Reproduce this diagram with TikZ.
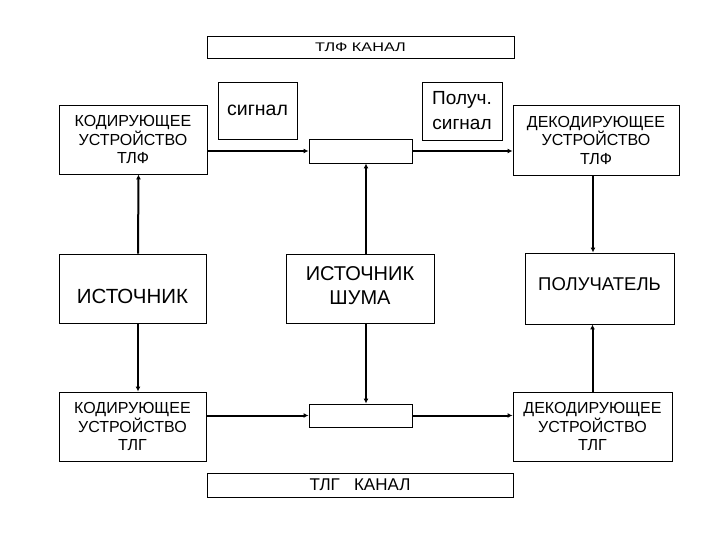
\documentclass[tikz,border=0pt]{standalone}
\usepackage{fontspec}
\setmainfont{Liberation Sans}
\usepackage{tikz}
\usetikzlibrary{arrows.meta, positioning}

\begin{document}
\begin{tikzpicture}[
        x=1pt, y=-1pt,
        box/.style={rectangle, draw, line width=0.9pt, inner sep=0pt, align=center},
        txt/.style 2 args={font=\fontsize{#1}{#2}\selectfont},
        every edge/.style={draw, line width=2pt, -{Latex[length=5pt,width=5pt]}}  % thick signal lines
    ]
    \useasboundingbox (0,0) rectangle (720,540);

    % channels
    \node[box, txt={12.5}{14}, minimum width=307pt, minimum height=22pt] (tlfchan) at (360.5,47) {\scalebox{1.3}[1]{ТЛФ КАНАЛ}};
    \node[box, txt={17}{19}, minimum width=306pt, minimum height=24pt] (tlgchan) at (360,485) {ТЛГ\ \ \ КАНАЛ};

    \node[box, txt={19.5}{22}, minimum width=79pt, minimum height=57pt] (signal) at (257.5,110.5) {сигнал};
    \node[box, txt={19}{25}, minimum width=80pt, minimum height=58pt] (recsignal) at (462,111) {Получ.\\сигнал};

    % top row
    \node[box, txt={16}{18.5}, minimum width=148pt, minimum height=69pt] (codtlf) at (133,139.5) {КОДИРУЮЩЕЕ\\УСТРОЙСТВО\\ТЛФ};
    \node[box, minimum width=103pt, minimum height=24pt] (mixtlf) at (360.5,151) {};
    \node[box, txt={16}{18.5}, minimum width=166pt, minimum height=70pt] (decodtlf) at (596,140) {ДЕКОДИРУЮЩЕЕ\\УСТРОЙСТВО\\ТЛФ};

    % middle row
    \node[box, txt={20.5}{24}, text height=30pt, text depth=0pt, minimum width=147pt, minimum height=69pt] (source) at (132.5,288.5) {ИСТОЧНИК};
    \node[box, txt={20}{24.5}, text depth=5.5pt, minimum width=148pt, minimum height=69pt] (noise) at (360,288.5) {ИСТОЧНИК\\ШУМА};
    \node[box, txt={18.5}{22}, text height=10pt, text depth=6pt, minimum width=149pt, minimum height=71pt] (receiver) at (599.5,288.5) {ПОЛУЧАТЕЛЬ};

    % bottom row
    \node[box, txt={16}{18.5}, minimum width=147pt, minimum height=69pt] (codtlg) at (132.5,426.5) {КОДИРУЮЩЕЕ\\УСТРОЙСТВО\\ТЛГ};
    \node[box, minimum width=103pt, minimum height=23pt] (mixtlg) at (360.5,415.5) {};
    \node[box, txt={16}{18.5}, minimum width=159pt, minimum height=69pt] (decodtlg) at (592.5,426.5) {ДЕКОДИРУЮЩЕЕ\\УСТРОЙСТВО\\ТЛГ};

    \draw ([xshift=5.5pt]source.north) edge ([xshift=5.5pt]codtlf.south);
    \draw ([xshift=5.5pt]source.south) edge ([xshift=5.5pt]codtlg.north);
    \draw (codtlf.east |- mixtlf) edge (mixtlf);
    \draw (mixtlf) edge (decodtlf.west |- mixtlf);
    \draw (codtlg.east |- mixtlg) edge (mixtlg);
    \draw (mixtlg) edge (decodtlg.west |- mixtlg);
    \draw ([xshift=6pt]noise.north) edge ([xshift=5.5pt]mixtlf.south);
    \draw ([xshift=6pt]noise.south) edge ([xshift=5.5pt]mixtlg.north);
    \draw ([xshift=-3pt]decodtlf.south) edge ([xshift=-3pt]decodtlf.south |- receiver.north);
    \draw (decodtlg.north) edge (decodtlg.north |- receiver.south);

\end{tikzpicture}
\end{document}
